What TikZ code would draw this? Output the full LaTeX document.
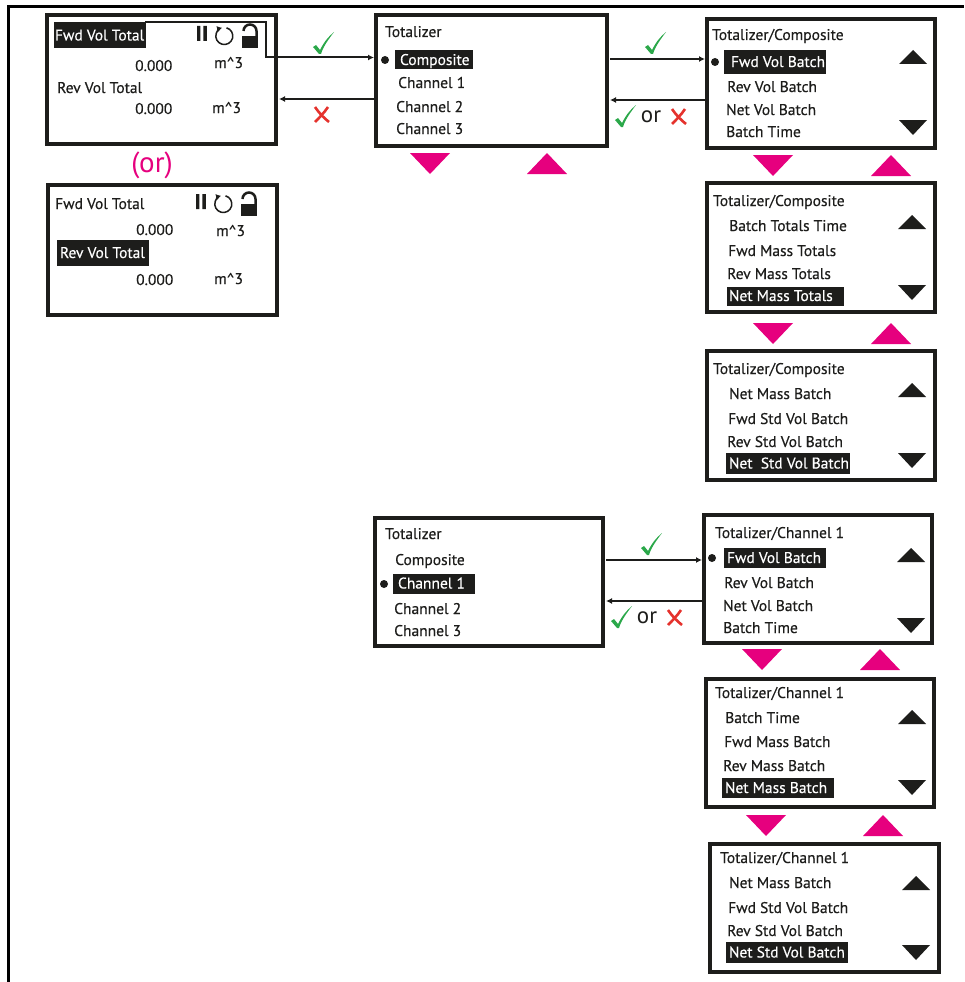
\documentclass[tikz,border=0pt]{standalone}
\usepackage{fontspec}
\setmainfont[FakeBold=0.35]{PT Sans}
\newfontfamily\plainfont{PT Sans}
\usetikzlibrary{arrows.meta}
\definecolor{ink}{HTML}{1D1D1B}
\definecolor{pinkm}{HTML}{E6007E}
\definecolor{okg}{HTML}{2BA84A}
\definecolor{nor}{HTML}{E5322D}
\tikzset{
 screen/.style={draw=ink,line width=3.6pt,fill=white},
 txt/.style={anchor=west,inner sep=0pt,text=ink,text height=11pt,text depth=1pt,font=\fontsize{15.5}{15.5}\selectfont},
 hl/.style={anchor=center,inner xsep=0pt,inner ysep=0pt,fill=ink,text=white,text height=11pt,text depth=1pt,font=\fontsize{15.5}{15.5}\selectfont},
 link/.style={draw=ink,line width=1.3pt,-{Latex[length=6pt,width=6pt]}},
 dot/.style={circle,fill=ink,inner sep=0pt,minimum size=8pt},
 frameline/.style={draw=black,line width=3pt},
 pinktri/.style={fill=pinkm},
 blacktri/.style={fill=ink},
}
\newcommand{\hlt}[3]{\makebox[#1pt][l]{\hspace*{#2pt}#3}}
\newcommand{\scr}[5]{\path[screen] (#2,#3) rectangle (#4,#5); \coordinate (#1) at (#2,#3);}
\newcommand{\tdown}[2]{\fill[pinktri] (#1-20,#2) -- (#1+20,#2) -- (#1,#2+21) -- cycle;}
\newcommand{\tup}[2]{\fill[pinktri] (#1-20,#2) -- (#1+20,#2) -- (#1,#2-21) -- cycle;}
\newcommand{\kup}[2]{\fill[blacktri] (#1-14,#2) -- (#1+14,#2) -- (#1,#2-14) -- cycle;}
\newcommand{\kdown}[2]{\fill[blacktri] (#1-14,#2) -- (#1+14,#2) -- (#1,#2+15) -- cycle;}
\newcommand{\chk}[2]{\fill[okg] (#1-10,#2+1) -- (#1-7,#2-1) -- (#1-3,#2+4) .. controls (#1+1,#2-4) and (#1+5,#2-9) .. (#1+11,#2-14) .. controls (#1+5,#2-6) and (#1,#2+1) .. (#1-2,#2+8) -- (#1-4,#2+8) -- cycle;}
\newcommand{\crs}[2]{\draw[nor,line width=2.6pt] (#1-7,#2-8) .. controls (#1-3,#2-2) and (#1+2,#2+3) .. (#1+7,#2+7) (#1+6,#2-8) .. controls (#1+2,#2-2) and (#1-3,#2+3) .. (#1-7,#2+7);}
\newcommand{\icons}[2]{%
 \fill[ink] (#1,#2-7) rectangle (#1+3.4,#2+8) (#1+6.4,#2-7) rectangle (#1+9.8,#2+8);
 \draw[ink,line width=1.5pt,-{Latex[length=5pt,width=6.5pt]}] (#1+29.5,#2-5.2) arc[start angle=-75,end angle=255,radius=8.5];
 \fill[ink] (#1+45,#2+3) rectangle (#1+61,#2+15);
 \draw[ink,line width=2.5pt] (#1+46.5,#2-2) arc[start angle=180,end angle=360,radius=6.5] -- (#1+59.5,#2+4);
}
\begin{document}
\begin{tikzpicture}[x=1pt,y=-1pt]
\useasboundingbox (0,0) rectangle (964,982);
\draw[frameline] (8.5,982) -- (8.5,6.5) -- (964,6.5);
% Screens
\scr{a}{47}{15}{276}{144}
\scr{a2}{48}{185}{277}{315}
\scr{b}{376}{15}{607}{146}
\scr{c}{707}{19}{935}{148}
\scr{d}{707}{183}{935}{312}
\scr{e}{707}{351}{935}{480}
\scr{f}{375}{518}{603}{646}
\scr{g}{704}{515}{932}{643}
\scr{h}{706}{679}{934}{807}
\scr{i}{710}{844}{939}{972}
% Named arrow ends
\coordinate (a1s) at (145,22.5);
\coordinate (a1c) at (266,22.5);
\coordinate (a1d) at (266,57.5);
\coordinate (b1e) at (374,57.5);
\coordinate (b2s) at (374,99);
\coordinate (a2e) at (279,99);
\coordinate (b3s) at (610,59);
\coordinate (c1e) at (705,59);
\coordinate (c2s) at (705,100);
\coordinate (b4e) at (610,100);
\coordinate (f1s) at (606,560);
\coordinate (g1e) at (702,560);
\coordinate (g2s) at (702,601);
\coordinate (f2e) at (606,601);
\draw[link,line width=2pt] (a1s) -- (a1c) -- (a1d) -- (b1e);
\draw[link] (b2s) -- (a2e);
\draw[link] (b3s) -- (c1e);
\draw[link] (c2s) -- (b4e);
\draw[link] (f1s) -- (g1e);
\draw[link] (g2s) -- (f2e);
% Screen A
\node[hl,minimum height=26pt] (a-t) at (100,35.5) {\hlt{92}{1}{Fwd Vol Total}};
\node[txt] (a-v1) at (135,66) {0.000};
\node[txt] (a-u1) at (214,63) {m\textasciicircum 3};
\node[txt] (a-t2) at (57,88) {Rev Vol Total};
\node[txt] (a-v2) at (135,109) {0.000};
\node[txt] (a-u2) at (212,108) {m\textasciicircum 3};
\icons{197}{33}
% or
\node[anchor=center,inner sep=0pt,text=pinkm,font=\plainfont\fontsize{29}{29}\selectfont] (or1) at (152,165) {(or)};
% Screen A2
\node[txt] (a2-t) at (55,204) {Fwd Vol Total};
\node[txt] (a2-v1) at (136,230) {0.000};
\node[txt] (a2-u1) at (216,231) {m\textasciicircum 3};
\node[hl,minimum height=26pt] (a2-t2) at (103,253) {\hlt{92}{3}{Rev Vol Total}};
\node[txt] (a2-v2) at (136,280) {0.000};
\node[txt] (a2-u2) at (214,279) {m\textasciicircum 3};
\icons{196}{201}
% Screen B
\node[txt] (b-t) at (385,32) {Totalizer};
\node[dot] (b-d) at (385,60) {};
\node[hl,minimum height=19pt] (b-1) at (434,60) {\hlt{78}{5}{Composite}};
\node[txt] (b-2) at (398,83) {Channel 1};
\node[txt] (b-3) at (396,107) {Channel 2};
\node[txt] (b-4) at (396,129) {Channel 3};
% Screen C
\node[txt] (c-t) at (712,35) {Totalizer/Composite};
\node[dot] (c-d) at (715,62) {};
\node[hl,minimum height=23pt] (c-1) at (775,62) {\hlt{102}{7}{Fwd Vol Batch}};
\node[txt] (c-2) at (727,87) {Rev Vol Batch};
\node[txt] (c-3) at (726,110) {Net Vol Batch};
\node[txt] (c-4) at (726,132) {Batch Time};
\kup{913}{64}\kdown{913}{120}
% Screen D
\node[txt] (d-t) at (713,201) {Totalizer/Composite};
\node[txt] (d-1) at (729,226) {Batch Totals Time};
\node[txt] (d-2) at (728,251) {Fwd Mass Totals};
\node[txt] (d-3) at (727,274) {Rev Mass Totals};
\node[hl,minimum height=19pt] (d-4) at (785.5,296) {\hlt{117}{2}{Net Mass Totals}};
\kup{912}{229}\kdown{912}{285}
% Screen E
\node[txt] (e-t) at (713,369) {Totalizer/Composite};
\node[txt] (e-1) at (729,394) {Net Mass Batch};
\node[txt] (e-2) at (728,419) {Fwd Std Vol Batch};
\node[txt] (e-3) at (727,442) {Rev Std Vol Batch};
\node[hl,minimum height=21pt] (e-4) at (788,463.5) {\hlt{124}{3}{Net\ \ Std Vol Batch}};
\kup{912}{397}\kdown{912}{453}
% Screen F
\node[txt] (f-t) at (385,534) {Totalizer};
\node[txt] (f-1) at (395,560) {Composite};
\node[dot] (f-d) at (384,584) {};
\node[hl,minimum height=20pt] (f-2) at (434,583.5) {\hlt{82}{5}{Channel 1}};
\node[txt] (f-3) at (394,609) {Channel 2};
\node[txt] (f-4) at (394,631) {Channel 3};
% Screen G
\node[txt] (g-t) at (715,533) {Totalizer/Channel 1};
\node[dot] (g-d) at (712,558) {};
\node[hl,minimum height=20pt] (g-1) at (775,558) {\hlt{102}{3}{Fwd Vol Batch}};
\node[txt] (g-2) at (724,583) {Rev Vol Batch};
\node[txt] (g-3) at (723,606) {Net Vol Batch};
\node[txt] (g-4) at (723,628) {Batch Time};
\kup{911}{562}\kdown{911}{618}
% Screen H
\node[txt] (h-t) at (715,693) {Totalizer/Channel 1};
\node[txt] (h-1) at (725,718) {Batch Time};
\node[txt] (h-2) at (724,742) {Fwd Mass Batch};
\node[txt] (h-3) at (723,766) {Rev Mass Batch};
\node[hl,minimum height=20pt] (h-4) at (778,788) {\hlt{112}{3}{Net Mass Batch}};
\kup{912}{724}\kdown{912}{780}
% Screen I
\node[txt] (i-t) at (720,858) {Totalizer/Channel 1};
\node[txt] (i-1) at (729,883) {Net Mass Batch};
\node[txt] (i-2) at (728,908) {Fwd Std Vol Batch};
\node[txt] (i-3) at (727,931) {Rev Std Vol Batch};
\node[hl,minimum height=21pt] (i-4) at (787,952.5) {\hlt{122}{3}{Net Std Vol Batch}};
\kup{916}{890}\kdown{916}{945}
% Pink triangles
\tdown{430}{153}\tup{547}{174}
\tdown{773}{155}\tup{891}{176}
\tdown{773}{323}\tup{891}{344}
\tdown{762}{649}\tup{880}{670}
\tdown{766}{815}\tup{883}{836}
% Marks
\chk{323}{46}\crs{322}{115}
\chk{655}{46}
\chk{625}{119}
\node[anchor=center,inner sep=0pt,text=ink,font=\plainfont\fontsize{23}{23}\selectfont] (or2) at (651,117) {or};
\crs{679}{117}
\chk{651}{547}
\chk{621}{620}
\node[anchor=center,inner sep=0pt,text=ink,font=\plainfont\fontsize{23}{23}\selectfont] (or3) at (647,618) {or};
\crs{675}{618}
\end{tikzpicture}
\end{document}
